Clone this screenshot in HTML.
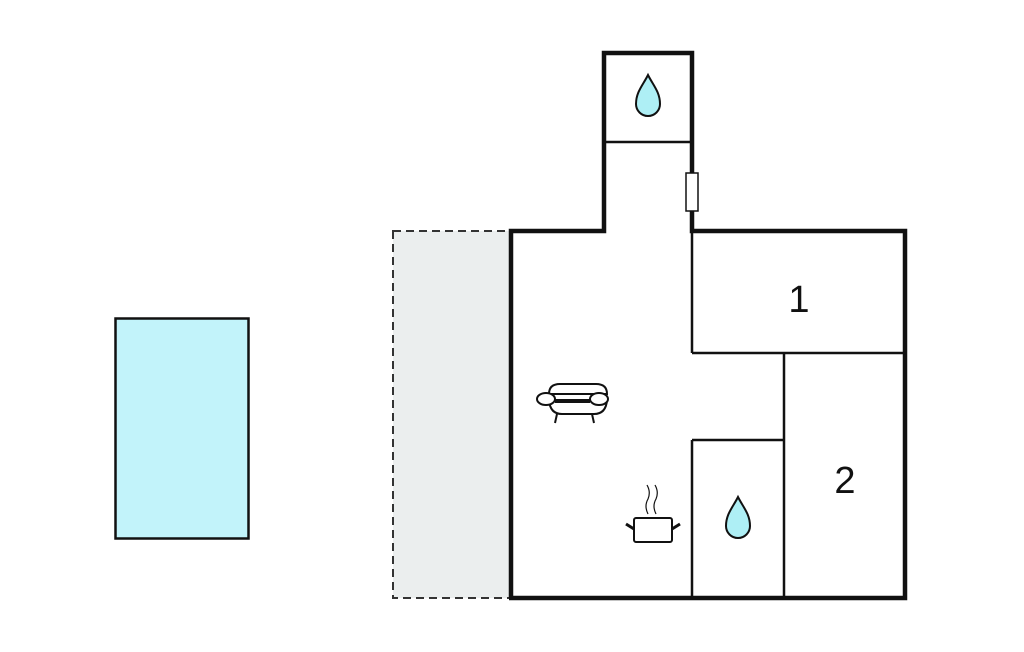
<!DOCTYPE html>
<html><head><style>body{margin:0;background:#fff}svg{display:block}</style></head><body>
<svg width="1024" height="652" viewBox="0 0 1024 652" xmlns="http://www.w3.org/2000/svg">
<rect x="115.5" y="318.5" width="133" height="220" fill="#c2f3fa" stroke="#111" stroke-width="2.5"/>
<rect x="393" y="231" width="118" height="367" fill="#ebeeee" stroke="#333" stroke-width="2" stroke-dasharray="8,5"/>
<g stroke="#111" fill="none">
<polyline points="511,598 511,231 604,231 604,53 692,53 692,231 905,231 905,598 509,598" stroke-width="4.5"/>
<line x1="604" y1="142" x2="692" y2="142" stroke-width="2.5"/>
<line x1="692" y1="231" x2="692" y2="353" stroke-width="2.5"/>
<line x1="692" y1="353" x2="905" y2="353" stroke-width="2.5"/>
<line x1="784" y1="353" x2="784" y2="598" stroke-width="2.5"/>
<line x1="692" y1="440" x2="784" y2="440" stroke-width="2.5"/>
<line x1="692" y1="440" x2="692" y2="598" stroke-width="2.5"/>
</g>
<rect x="686" y="173" width="12" height="38" fill="#fff" stroke="#111" stroke-width="1.5"/>
<path d="M648,75 C643,85 636,92 636,104 A12,12 0 0 0 660,104 C660,92 653,85 648,75Z" fill="#aeeff5" stroke="#111" stroke-width="2"/>
<path d="M738,497 C733,507 726,514 726,526 A12,12 0 0 0 750,526 C750,514 743,507 738,497Z" fill="#aeeff5" stroke="#111" stroke-width="2"/>
<g stroke="#111" stroke-width="2" fill="#fff">
<path d="M549,394 Q549,384 560,384 L596,384 Q607,384 607,394 Z"/>
<path d="M549,400 Q550,414 562,414 L594,414 Q606,414 607,400 Z"/>
<ellipse cx="546" cy="399" rx="9" ry="6"/>
<ellipse cx="599" cy="399" rx="9" ry="6"/>
<line x1="555" y1="402" x2="590" y2="402"/>
<line x1="557" y1="414" x2="555" y2="423"/>
<line x1="592" y1="414" x2="594" y2="423"/>
<rect x="634" y="518" width="38" height="24" rx="2"/>
<line x1="626" y1="524" x2="634" y2="529" stroke-width="3"/>
<line x1="680" y1="524" x2="672" y2="529" stroke-width="3"/>
<path d="M648,514 Q644,506 648,499 Q651,492 647,485" fill="none" stroke-width="1.2"/>
<path d="M656,514 Q652,506 656,499 Q659,492 655,485" fill="none" stroke-width="1.2"/>
</g>
<text x="799" y="312" font-family="Liberation Sans, sans-serif" font-size="38" text-anchor="middle" fill="#111">1</text>
<text x="845" y="493" font-family="Liberation Sans, sans-serif" font-size="38" text-anchor="middle" fill="#111">2</text>
</svg>
</body></html>
